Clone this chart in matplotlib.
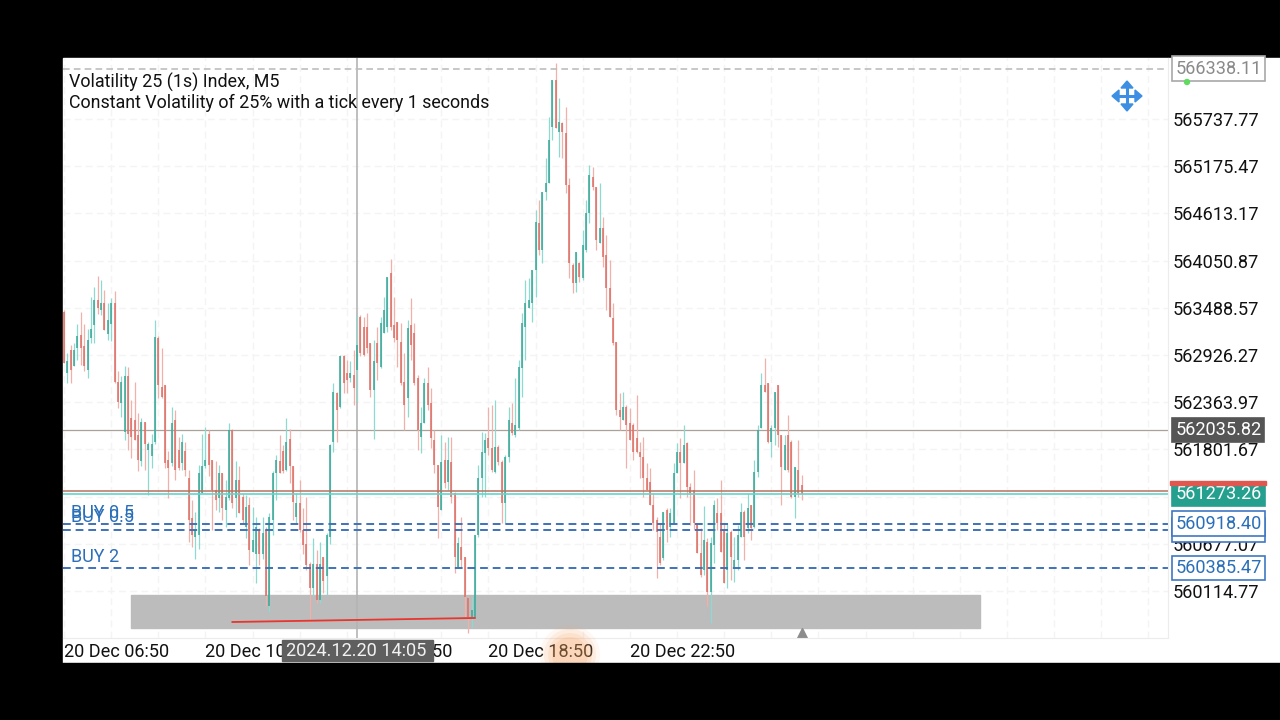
import numpy as np
import matplotlib
matplotlib.use('Agg')
import matplotlib.pyplot as plt
from matplotlib.patches import Rectangle, Polygon, Circle

plt.rcParams['font.family'] = ['Roboto', 'DejaVu Sans']

# M5 candles
highs = [
    563460,562950,563050,563070,563300,563440,563300,563240,563620,563740,
    563870,563820,563700,563540,563600,563690,562730,562670,562800,562780,
    562390,562610,562230,562180,562130,561890,561990,563340,563150,563010,
    562570,561780,562310,562270,561950,561990,561890,561560,561200,561060,
    561620,561990,562070,562030,561680,561660,561620,561520,561440,562110,
    562050,561660,561600,561280,561260,561240,561120,561000,560860,561000,
    560880,561040,561540,561730,561970,561850,562180,562050,561600,561280,
    561440,561100,561240,560460,560740,560600,560700,560520,560800,561870,
    562590,562490,562930,562930,562870,562850,562990,563400,563400,563380,
    563430,563070,563110,563260,563380,563620,563860,564070,563620,563320,
    563310,562950,563340,563610,563310,562690,562310,562650,562780,562530,
    562030,561620,561970,561890,561950,561950,561290,560760,561000,560520,
    560040,560040,560780,561620,562010,562000,562310,562330,562390,561850,
    561680,561730,562310,562350,562650,562870,563430,563820,563840,563940,
    564650,564770,564870,565270,565760,566200,566400,565990,565700,565880,
    565040,564020,564150,564030,564420,564770,565190,565170,564930,564980,
    564570,564360,564060,563550,563080,562470,562490,562330,562300,562120,
    562450,561890,561950,561640,561580,561280,561000,560930,561060,561100,
    561100,561640,561880,561940,562090,561890,561400,561560,560930,560870,
    561130,560750,560760,561200,561220,561440,560930,560930,560840,560760,
    560900,561160,561080,561280,561140,561680,562090,562710,562890,562590,
    562090,562490,562570,561970,561970,562210,561910,561590,561910,561500,
]
lows = [
    562830,562590,562590,562790,562870,562810,562730,562650,563070,563070,
    563420,563400,563220,563100,563090,562590,562290,562190,561910,561800,
    561700,561910,561540,561600,561560,561260,561580,561870,562410,562410,
    561580,561220,561600,561440,561560,561560,561480,560700,560640,560500,
    560620,561280,561580,561480,560840,561080,561060,560960,560880,561200,
    561100,561000,561040,560920,560740,560420,560580,560210,560420,560500,
    559930,559860,560780,561200,561520,561520,561540,561400,560960,560920,
    560820,560560,560360,559750,560050,559970,559970,560090,560070,560680,
    561770,561890,562290,562470,562470,562610,562330,562370,562910,562910,
    562950,562430,561930,562630,562770,563190,563200,563220,563080,562780,
    562570,562030,562190,562870,562570,561790,561760,562120,562270,561820,
    561520,560750,561080,561340,561320,561160,560330,560390,560390,559800,
    559610,559680,559800,560760,561230,561230,561730,561530,561520,561620,
    560930,560930,561650,561970,561950,562030,562430,562870,563490,563320,
    563620,564120,564020,564770,564980,565490,565630,565290,565270,564860,
    563840,563670,563680,563800,563820,564150,564500,564890,564180,564260,
    563970,563460,563380,563050,562210,562030,562150,561580,561910,561680,
    561760,561460,561230,561320,561140,560840,560270,560420,560480,560700,
    560760,560930,561520,561220,561640,561230,560900,560840,560570,560280,
    560300,559930,559730,560450,560840,560580,560210,560150,560250,560220,
    560360,560760,560480,560810,560720,560870,561470,562060,562490,561880,
    561710,561850,561830,561140,561560,561530,561220,560980,561230,561200,
]
opens = [
    563440,562710,562990,562790,563010,563170,563030,562750,563130,563280,
    563580,563460,563540,563180,563300,563540,562610,562350,562010,562670,
    562170,562150,561970,561660,562130,561800,561720,561890,563130,562550,
    562570,561680,561640,562150,561800,561640,561780,561460,560980,560760,
    560780,561280,561600,561990,561680,561320,561220,561520,561080,561220,
    562030,561220,561440,561240,560880,561140,560580,560560,560840,560560,
    560840,559930,560960,561520,561660,561780,561560,561930,561600,561000,
    561160,560840,560680,560440,560150,560440,560010,560520,560290,560760,
    561890,562470,562310,562910,562710,562650,562690,562750,563380,563260,
    563260,563070,562510,563070,562780,563190,563260,563900,563280,563320,
    563080,562600,562410,563280,563190,562650,561950,562120,562590,562350,
    561910,561620,561080,561680,561410,561650,561280,560400,560640,560520,
    560030,559800,559800,560780,561460,561760,561940,561820,561530,561830,
    561650,561160,561710,562120,561970,562060,562770,563260,563490,563550,
    563940,564500,564180,564870,564980,565640,566200,565580,565690,565570,
    564950,564000,563780,564020,563840,564180,564620,565050,564930,564260,
    564440,564120,563720,563370,563080,562270,562150,562310,562120,562090,
    561940,561770,561710,561460,561410,561140,560960,560760,560510,561080,
    560880,560930,561520,561770,561640,561880,561350,561320,560930,560570,
    560360,560700,560100,560660,561040,561040,560840,560360,560820,560400,
    560480,560760,561060,560870,561140,560880,561530,562060,562570,562590,
    561890,562060,562570,561970,561560,561970,561890,561230,561560,561380,
]
closes = [
    562830,562850,562750,562990,563150,563010,562790,563110,563240,563580,
    563480,563540,563220,563340,563540,562610,562370,562610,562670,561990,
    561950,561910,561680,562130,561870,561870,561870,563140,562570,562430,
    561640,561580,562110,561560,561580,561890,561560,560960,560780,560840,
    561520,561600,561680,561620,561320,561200,561520,561100,561240,562030,
    561160,561440,561040,560960,561120,560600,560720,560880,560560,560800,
    560050,561000,561520,561680,561520,561540,561890,561600,561180,561160,
    560840,560660,560420,560150,560440,560010,560440,560230,560780,561850,
    562490,562270,562910,562590,562630,562710,562530,563050,562950,562930,
    563010,562510,562850,562830,563310,563460,563860,563260,563130,563110,
    562590,562330,563250,563040,562590,562030,562120,562590,562330,561940,
    561620,561120,561650,561400,561680,561230,560520,560690,560480,560040,
    559800,559890,560780,561460,561770,561910,561820,561560,561830,561650,
    561160,561710,562150,562000,562090,562780,563310,563550,563580,563940,
    564510,564180,564870,564980,565490,566200,565630,565700,565580,564950,
    564020,563780,564150,563860,564240,564620,565070,564930,564300,564440,
    564090,563720,563380,563070,562270,562190,562310,562090,561910,561770,
    561770,561710,561460,561320,561140,560930,560820,560450,561060,560840,
    561040,561520,561770,561640,561850,561350,561280,560930,560570,560300,
    560720,560100,560690,561140,560930,560580,560210,560800,560520,560480,
    560780,561060,560760,561100,560870,561530,562030,562570,562490,561890,
    562060,562490,561970,561590,561850,561560,561230,561590,561280,561273,
]

price_ticks = [565737.77, 565175.47, 564613.17, 564050.87, 563488.57, 562926.27,
               562363.97, 561801.67, 561239.37, 560677.07, 560114.77]
time_labels = ['20 Dec 06:50', '20 Dec 10:50', '20 Dec 14:50', '20 Dec 18:50', '20 Dec 22:50']
day_high = 566338.11
crosshair_price = 562035.82
crosshair_bar = 87
bid = 561273.26
ask = 561305.0
buy_prices = [560918.40, 560845.19, 560385.47]
buy_names = ['BUY 0.5', 'BUY 0.5', 'BUY 2']
zone_bars = [20, 272]
zone_prices = [559674, 560067]
trend_bars = [50, 122]
trend_prices = [559745, 559793]

highs, lows, opens, closes = map(np.array, (highs, lows, opens, closes))
bars = np.arange(len(highs))
up = closes >= opens

fig = plt.figure(figsize=(12.8, 7.2), dpi=100, facecolor='black')

# white screen area
base = fig.add_axes([0, 0, 1, 1], zorder=0)
base.set_xlim(0, 1280)
base.set_ylim(720, 0)
base.axis('off')
base.add_patch(Rectangle((63, 58), 1217, 605, color='white'))

ax = fig.add_axes([63/1280, 82/720, 1105/1280, 580/720], zorder=1)
ax.patch.set_alpha(0)
ax.set_xlim(-0.3, 327.8)
ax.set_ylim(559554.5, 566464)

for s in ['left', 'top']:
    ax.spines[s].set_visible(False)
for s in ['right', 'bottom']:
    ax.spines[s].set_color('#ececec')

ax.yaxis.tick_right()
ax.set_yticks(price_ticks, labels=['%.2f' % p for p in price_ticks])
grid_bars = list(range(0, 328, 14))
tick_names = [''] * len(grid_bars)
for k, name in enumerate(time_labels):
    tick_names[k * 3] = name
ax.set_xticks(grid_bars, labels=tick_names)
for t in ax.get_xticklabels():
    t.set_ha('left')
ax.tick_params(axis='both', length=0, labelsize=13.1, colors='#111111')
ax.tick_params(axis='y', pad=3)
ax.tick_params(axis='x', pad=3.5)
ax.grid(True, color='#f4f4f4', linestyle=(0, (5, 3)), linewidth=1)
ax.set_axisbelow(True)

# grey zone behind the candles
ax.add_patch(Rectangle((zone_bars[0], zone_prices[0]), zone_bars[1] - zone_bars[0],
                       zone_prices[1] - zone_prices[0], color='#bcbcbc', zorder=1))

# crosshair
ax.axvline(crosshair_bar, color='#b4b4b4', linewidth=1.2, zorder=1.5)
ax.axhline(crosshair_price, color='#a8a29a', linewidth=0.9, zorder=1.5)

# wicks are paler than the bodies
ax.vlines(bars[up], lows[up], highs[up], color='#8cdad0', linewidth=0.9, zorder=2)
ax.vlines(bars[~up], lows[~up], highs[~up], color='#f2b0aa', linewidth=0.9, zorder=2)
ax.vlines(bars[up], opens[up], closes[up], color='#38a596', linewidth=1.1, zorder=2.1)
ax.vlines(bars[~up], closes[~up], opens[~up], color='#dc6d65', linewidth=1.1, zorder=2.1)

ax.axhline(day_high, color='#bdbdbd', linestyle=(0, (4, 2.5)), linewidth=1.2, zorder=2.2)
ax.axhline(ask, color='#b8735f', linewidth=1.1, zorder=2.2)
ax.axhline(bid, color='#62d6cc', linewidth=1.2, zorder=2.2)
for p in buy_prices:
    ax.axhline(p, color='#3f72b8', linestyle=(0, (4, 2.5)), linewidth=1.4, zorder=2.3)

ax.plot(trend_bars, trend_prices, color='#e8352e', linewidth=1.3, zorder=2.4)
ax.plot([len(bars) - 1], [559600], marker='^', markersize=8, color='#8c8c8c', zorder=2.4)

# names of the buy lines, the two 0.5 ones overlap in the original
ax.text(2, buy_prices[0] + 122, buy_names[0], color='#2a6fb8', fontsize=13, va='center')
ax.text(2, buy_prices[1] + 150, buy_names[1], color='#2a6fb8', fontsize=13, va='center')
ax.text(2, buy_prices[2] + 130, buy_names[2], color='#2a6fb8', fontsize=13, va='center')

# price boxes right of the plot
tr = ax.get_yaxis_transform()


def price_box(price, fc, ec, tc, x=1.0065):
    ax.text(x, price, '%.2f' % price, transform=tr, color=tc, fontsize=13.1, va='center',
            zorder=5, bbox=dict(boxstyle='square,pad=0.17', facecolor=fc, edgecolor=ec, linewidth=1.2))


price_box(day_high, 'white', '#a8a8a8', '#8a8a8a')
price_box(crosshair_price, '#555555', '#555555', 'white')
price_box(bid, '#26a08e', '#26a08e', 'white')
price_box(buy_prices[1], 'white', '#3f78c4', '#2a6fb8')
price_box(buy_prices[0], 'white', '#3f78c4', '#2a6fb8')
price_box(buy_prices[2], 'white', '#3f78c4', '#2a6fb8')

# things that sit on the screen itself, in pixels
top = fig.add_axes([0, 0, 1, 1], zorder=2)
top.set_xlim(0, 1280)
top.set_ylim(720, 0)
top.axis('off')
top.patch.set_alpha(0)

top.text(69, 82, 'Volatility 25 (1s) Index, M5', fontsize=12.9, color='#111111', va='center')
top.text(69, 103, 'Constant Volatility of 25% with a tick every 1 seconds', fontsize=12.9,
         color='#111111', va='center')

top.add_patch(Rectangle((1170, 481), 96, 4, color='#e0574f'))
top.add_patch(Circle((1187, 82), 2.5, color='#5fdc5f'))

top.add_patch(Rectangle((282, 640), 151, 21, color='#5f5f5f'))
top.text(286, 650.5, '2024.12.20 14:05', fontsize=13.1, color='#f2f2f2', va='center')

# touch mark over the time axis
for r, a in zip([30, 26, 22, 18], [0.08, 0.12, 0.14, 0.16]):
    top.add_patch(Circle((570, 655), r, color='#f6a25e', alpha=a, linewidth=0))
top.add_patch(Rectangle((0, 663), 1280, 57, color='black', zorder=3))

# move icon
blue = '#3d8fe3'
cx, cy = 1127, 96
top.plot([cx - 10, cx + 10], [cy, cy], color=blue, linewidth=2.2)
top.plot([cx, cx], [cy - 10, cy + 10], color=blue, linewidth=2.2)
for dx, dy in [(1, 0), (-1, 0), (0, 1), (0, -1)]:
    tip = (cx + 15 * dx, cy + 15 * dy)
    a = (cx + 8 * dx + 6 * dy, cy + 8 * dy + 6 * dx)
    b = (cx + 8 * dx - 6 * dy, cy + 8 * dy - 6 * dx)
    top.add_patch(Polygon([tip, a, b], color=blue))

fig.savefig('out.png', dpi=100, facecolor='black')
